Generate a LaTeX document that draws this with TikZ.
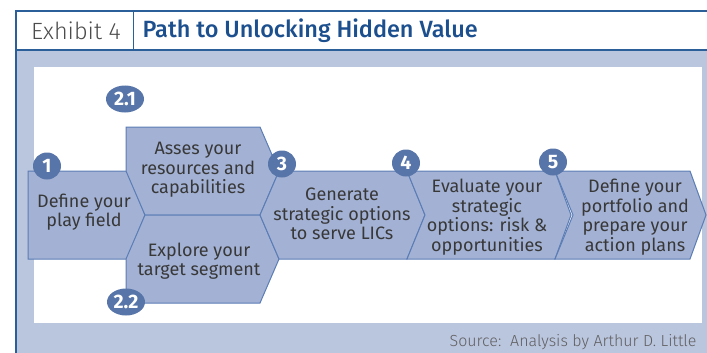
\documentclass[tikz,border=0pt]{standalone}
\usepackage{fontspec}
\setmainfont{Fira Sans}
\newfontfamily\lightfont{Fira Sans Light}
\newfontfamily\mediumfont{Fira Sans Medium}
\usepackage{tikz}
\usetikzlibrary{shapes.geometric}

\definecolor{frameblue}{HTML}{2A5F9A}
\definecolor{titleblue}{HTML}{1C4F8E}
\definecolor{bandlav}{HTML}{BAC5DE}
\definecolor{boxblue}{HTML}{A3B2D4}
\definecolor{edgeblue}{HTML}{5B7DB5}
\definecolor{badgeblue}{HTML}{5775A9}
\definecolor{textgray}{HTML}{383838}

\begin{document}
\begin{tikzpicture}[x=1pt,y=-1pt,
  stepshape/.style={draw=edgeblue,fill=boxblue,line width=1pt,line join=miter},
  steptext/.style={align=center,text=textgray,inner sep=0pt,font=\fontsize{18}{19.6}\selectfont},
  badge/.style={ellipse,fill=badgeblue,text=white,inner sep=0pt,minimum width=#1,minimum height=27,font=\fontsize{19.5}{19.5}\selectfont\bfseries},
  badge/.default=28]
\useasboundingbox (0,0) rectangle (707,353);

% frame and title bar
\fill[bandlav] (16,50) rectangle (707,353);
\fill[white] (34,67) rectangle (702,323);
\draw[frameblue,line width=1.5pt] (707,11) -- (16,11) -- (16,353);
\draw[frameblue,line width=1.5pt] (16,50) -- (707,50);
\draw[frameblue,line width=1pt] (133,11) -- (133,50);
\node[text=textgray!90,font=\lightfont\fontsize{23.5}{23.5}\selectfont] (exhibit) at (76,31) {Exhibit 4};
\node[anchor=west,text=titleblue,font=\mediumfont\fontsize{23.5}{23.5}\selectfont] (title) at (139,31) {Path to Unlocking Hidden Value};

% steps
\draw[stepshape] (28,171) -- (127,171) -- (145,215) -- (127,259) -- (28,259) -- cycle;
\draw[stepshape] (126,127) -- (260,127) -- (279,171) -- (260,215) -- (145,215) -- (126,171) -- cycle;
\draw[stepshape] (145,215) -- (260,215) -- (279,259) -- (260,303) -- (126,303) -- (126,259) -- cycle;
\draw[stepshape] (279,171) -- (407,171) -- (425,215) -- (407,259) -- (279,259) -- (260,215) -- cycle;
\foreach \l/\r in {407/555,555/690}
  \draw[stepshape] (\l,171) -- (\r,171) -- (\r+16,215) -- (\r,259) -- (\l,259) -- (\l+18,215) -- cycle;

\node[steptext] (play) at (84,212) {Define your\\play field};
\node[steptext] (resources) at (198,170) {Asses your\\resources and\\capabilities};
\node[steptext] (target) at (199,261) {Explore your\\target segment};
\node[steptext] (generate) at (342,214) {Generate\\strategic options\\to serve LICs};
\node[steptext] (evaluate) at (487,217) {Evaluate your\\strategic\\options: risk \&\\opportunities};
\node[steptext] (portfolio) at (635,217) {Define your\\portfolio and\\prepare your\\action plans};

% numbered badges
\foreach \n/\x/\y in {1/47/166,3/282/164,4/406/163,5/553/162}
  \node[badge] (b\n) at (\x,\y) {\n};
\node[badge=38] (b21) at (125,99) {2.1};
\node[badge=38] (b22) at (126,302) {2.2};

\node[anchor=east,text=textgray!80,font=\lightfont\fontsize{16}{16}\selectfont] (source) at (700,342) {Source:\ \ Analysis by Arthur D. Little};
\end{tikzpicture}
\end{document}
